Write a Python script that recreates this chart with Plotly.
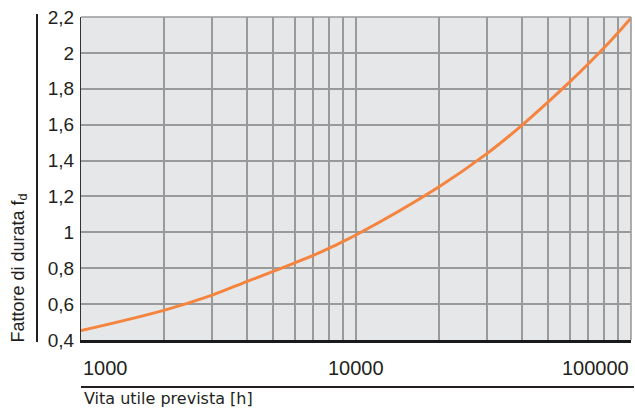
import math
import plotly.graph_objects as go

# Data
hours = [1000, 2000, 3000, 4000, 5000, 6000, 7000, 8000, 9000, 10000,
         20000, 30000, 40000, 50000, 60000, 70000, 80000, 90000, 100000]
factor = [0.452, 0.565, 0.650, 0.725, 0.782, 0.830, 0.872, 0.912, 0.950, 0.985,
          1.253, 1.440, 1.595, 1.727, 1.840, 1.940, 2.030, 2.115, 2.195]

x_grid = [1000, 2000, 3000, 4000, 5000, 6000, 7000, 8000, 9000,
          10000, 20000, 30000, 40000, 50000, 60000, 70000, 80000, 90000, 100000]
x_labels = [(1000, "1000", "left"), (10000, "10000", "center"), (100000, "100000", "right")]
y_ticks = [0.4, 0.6, 0.8, 1.0, 1.2, 1.4, 1.6, 1.8, 2.0, 2.2]
y_labels = ["0,4", "0,6", "0,8", "1", "1,2", "1,4", "1,6", "1,8", "2", "2,2"]

W, H = 635, 410
PL, PR, PT, PB = 81, 631, 17, 340          # plot area in window pixels
ML, MR, MT, MB = PL, W - PR, PT, H - PB
PW, PH = PR - PL, PB - PT


def px(xp):
    return (xp - PL) / PW


def py(yp):
    return (PB - yp) / PH


FONT = "Liberation Sans, Arial, Helvetica, sans-serif"
GRID = "#9a9a9a"
TXT = "#231f20"

fig = go.Figure()
fig.add_trace(go.Scatter(
    x=hours, y=factor, mode="lines",
    line=dict(color="#f5843f", width=3, shape="spline", smoothing=1.0),
    hoverinfo="skip", showlegend=False,
))

fig.update_layout(
    width=W, height=H, autosize=False,
    margin=dict(l=ML, r=MR, t=MT, b=MB, pad=0),
    paper_bgcolor="white", plot_bgcolor="#e6e7e9",
    font=dict(family=FONT, color=TXT),
    xaxis=dict(
        type="log", range=[3, 5], tickvals=x_grid, showticklabels=False,
        showgrid=True, gridcolor=GRID, gridwidth=1.6,
        showline=True, linecolor="#1a1a1a", linewidth=2.5,
        ticks="", zeroline=False, fixedrange=True,
    ),
    yaxis=dict(
        range=[0.3995, 2.2005], tickvals=y_ticks, ticktext=y_labels,
        tickfont=dict(size=19, family=FONT, color=TXT),
        showgrid=True, gridcolor=GRID, gridwidth=1.6,
        showline=True, linecolor="#333333", linewidth=1.2,
        ticks="outside", ticklen=2, tickcolor="rgba(0,0,0,0)",
        zeroline=False, fixedrange=True,
    ),
)

annotations = []
for val, txt, anchor in x_labels:
    annotations.append(dict(
        x=math.log10(val), xref="x", y=py(368), yref="paper",
        text=txt, showarrow=False, xanchor=anchor, yanchor="middle",
        font=dict(size=20, family=FONT, color=TXT),
    ))
annotations.append(dict(
    x=px(19), xref="paper", y=py(345), yref="paper",
    text="Fattore di durata f<sub>d</sub>", textangle=-90, showarrow=False,
    xanchor="center", yanchor="bottom",
    font=dict(size=18, family=FONT, color=TXT),
))
annotations.append(dict(
    x=px(82), xref="paper", y=py(399), yref="paper",
    text="Vita utile prevista [h]", showarrow=False,
    xanchor="left", yanchor="middle",
    font=dict(size=16, family="DejaVu Sans, sans-serif", color=TXT),
))
fig.update_layout(annotations=annotations)

shapes = [
    # top and right borders
    dict(type="line", xref="paper", yref="paper", x0=0, x1=1, y0=1, y1=1,
         line=dict(color=GRID, width=1.6)),
    dict(type="line", xref="paper", yref="paper", x0=1, x1=1, y0=0, y1=1,
         line=dict(color=GRID, width=1.6)),
    # left black rule beside the y labels
    dict(type="line", xref="paper", yref="paper", x0=px(37), x1=px(37),
         y0=py(342), y1=py(14), line=dict(color=TXT, width=2)),
    # rule under the x labels
    dict(type="line", xref="paper", yref="paper", x0=0, x1=px(634),
         y0=py(387), y1=py(387), line=dict(color=TXT, width=2)),
]
fig.update_layout(shapes=shapes)

fig.write_html(
    "out.html",
    config={"displayModeBar": False},
    post_script="document.body.style.margin='0px';"
                "document.body.style.overflow='hidden';",
)
